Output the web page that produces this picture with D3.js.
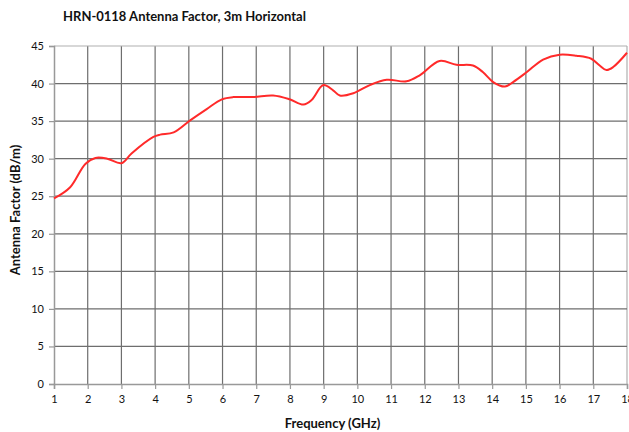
<!DOCTYPE html>
<html>
<head>
<meta charset="utf-8">
<script src="https://cdn.jsdelivr.net/npm/d3@7"></script>
<style>
  body { margin: 0; background: #fff; }
  text { font-family: "Lato", "DejaVu Sans", sans-serif; fill: #111; }
</style>
</head>
<body>
<div id="chart"></div>
<script>
// antenna factor (GHz, dB/m)
const freqGHz = [1, 1.48, 1.93, 2.23, 2.58, 3.0, 3.3, 3.95, 4.15, 4.55, 5.04, 5.53, 5.98, 6.32, 6.91, 7.5,
  7.99, 8.4, 8.64, 8.99, 9.28, 9.48, 9.88, 10.37, 10.87, 11.46, 11.85, 12.44, 12.94, 13.43, 13.73,
  14.03, 14.38, 14.62, 15.02, 15.51, 16.0, 16.5, 16.94, 17.19, 17.39, 17.59, 18.0];
const antennaFactor = [24.7, 26.2, 29.3, 30.1, 30.0, 29.4, 30.7, 32.9, 33.2, 33.5, 35.1, 36.6, 37.9, 38.2, 38.2, 38.4,
  37.9, 37.2, 37.8, 39.8, 39.1, 38.4, 38.7, 39.8, 40.5, 40.3, 41.1, 43.0, 42.5, 42.4, 41.5,
  40.2, 39.6, 40.2, 41.5, 43.2, 43.85, 43.7, 43.3, 42.4, 41.8, 42.2, 44.1];
const xTicks = d3.range(1, 19);
const yTicks = d3.range(0, 50, 5);

const W = 629, H = 432;
const margin = {top: 46, right: 2, bottom: 48, left: 54};
const width = W - margin.left - margin.right;
const height = H - margin.top - margin.bottom;

const svg = d3.select("#chart").append("svg")
  .attr("width", W).attr("height", H);

svg.append("text")
  .attr("x", 63).attr("y", 21)
  .style("font-size", "13px").style("font-weight", "bold")
  .text("HRN-0118 Antenna Factor, 3m Horizontal");

const g = svg.append("g").attr("transform", `translate(${margin.left},${margin.top})`);

const x = d3.scaleLinear().domain([1, 18]).range([0, width]);
const y = d3.scaleLinear().domain([0, 45]).range([height, 0]);

// grid
g.append("g").selectAll("line").data(xTicks.slice(1)).enter().append("line")
  .attr("x1", d => x(d)).attr("x2", d => x(d))
  .attr("y1", 0).attr("y2", height)
  .attr("stroke", d => d === 18 ? "#b0b0b0" : "#6e6e6e").attr("stroke-width", 1.2);
g.append("g").selectAll("line").data(yTicks.slice(1)).enter().append("line")
  .attr("x1", 0).attr("x2", width)
  .attr("y1", d => y(d)).attr("y2", d => y(d))
  .attr("stroke", d => d === 45 ? "#b0b0b0" : "#6e6e6e").attr("stroke-width", 1.2);

const yAxis = g.append("g")
  .call(d3.axisLeft(y).tickValues(yTicks).tickSize(5).tickPadding(5));
const xAxis = g.append("g").attr("transform", `translate(0,${height})`)
  .call(d3.axisBottom(x).tickValues(xTicks).tickSize(5).tickPadding(6));
[xAxis, yAxis].forEach(a => {
  a.select(".domain").attr("stroke", "#999").attr("stroke-width", 1.5);
  a.selectAll(".tick line").attr("stroke", "#999").attr("stroke-width", 1.2);
  a.selectAll(".tick text").style("font-size", "11px").attr("fill", "#111")
    .style("font-family", "Lato, DejaVu Sans, sans-serif");
});

const line = d3.line()
  .x((d, i) => x(freqGHz[i]))
  .y(d => y(d))
  .curve(d3.curveCatmullRom.alpha(0.5));

g.append("path")
  .datum(antennaFactor)
  .attr("fill", "none")
  .attr("stroke", "#ff2a2a")
  .attr("stroke-width", 2)
  .attr("d", line);

svg.append("text")
  .attr("x", margin.left + width / 2 - 8).attr("y", 428)
  .attr("text-anchor", "middle")
  .style("font-size", "13px").style("font-weight", "bold")
  .text("Frequency (GHz)");

svg.append("text")
  .attr("transform", `translate(20,${margin.top + height / 2 - 5}) rotate(-90)`)
  .attr("text-anchor", "middle")
  .style("font-size", "13px").style("font-weight", "bold")
  .text("Antenna Factor (dB/m)");
</script>
</body>
</html>
